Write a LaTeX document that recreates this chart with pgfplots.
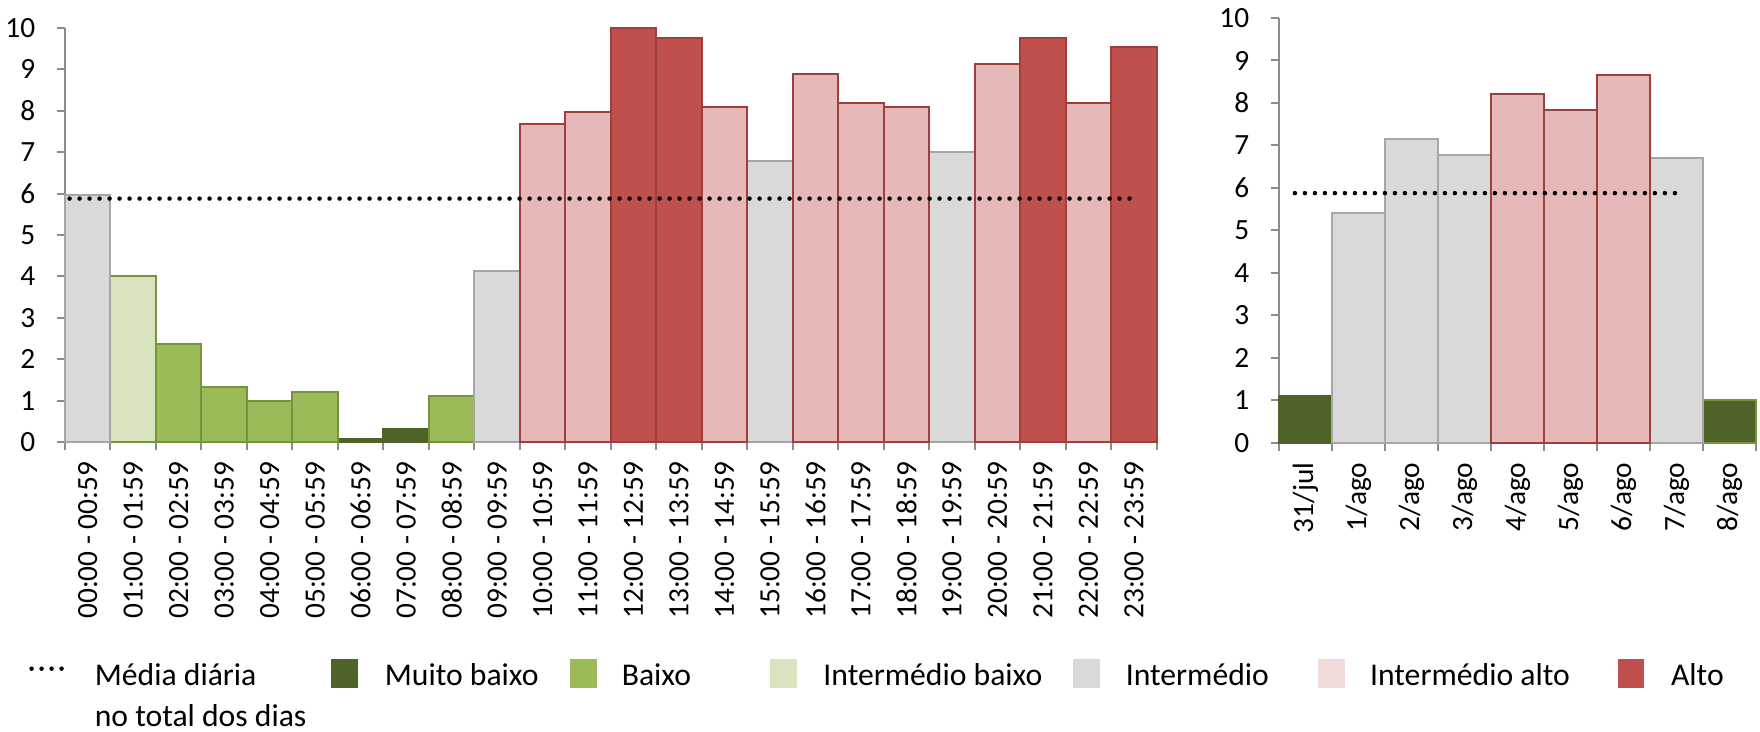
\documentclass[border=0pt]{standalone}
\usepackage{pgfplots}
\pgfplotsset{compat=1.18}
\usepackage{fontspec}
\setmainfont{Carlito}
\definecolor{mbaixo}{HTML}{4F6228}
\definecolor{baixo}{HTML}{9BBB59}
\definecolor{baixoB}{HTML}{77933C}
\definecolor{ibaixo}{HTML}{D7E4BD}
\definecolor{inter}{HTML}{D9D9D9}
\definecolor{interB}{HTML}{A6A6A6}
\definecolor{ialto}{HTML}{E6B9B8}
\definecolor{ialtoLeg}{HTML}{F2DCDB}
\definecolor{alto}{HTML}{C0504D}
\definecolor{altoB}{HTML}{A03E3C}
\definecolor{axisgray}{HTML}{8C8C8C}

\tikzset{avg/.style={black, line width=1.35pt, line cap=round, dash pattern=on 0pt off 3pt}}
\pgfplotsset{
 common/.style={
  scale only axis, axis x line*=bottom, axis y line*=left,
  axis line style={draw=axisgray, line width=0.6pt},
  ymin=0, ymax=10, ytick={0,...,10},
  tick align=outside, major tick length=2.4pt,
  tick style={draw=axisgray, line width=0.6pt},
  x tick label as interval,
  /pgf/number format/assume math mode=true,
  yticklabel style={font=\fontsize{8.8}{10}\selectfont, xshift=-3pt},
  xticklabel style={font=\fontsize{8.8}{10}\selectfont, rotate=90, anchor=east},
  clip=false,
 },
 barplot/.style={ybar, bar width=1, bar shift=0pt, line width=0.6pt},
}

\begin{document}
\begin{tikzpicture}
\begin{axis}[common,
  width=327.5pt, height=124.2pt,
  xmin=-0.5, xmax=23.5,
  xtick={-0.5,0.5,...,23.5},
  xticklabels={00:00 - 00:59,01:00 - 01:59,02:00 - 02:59,03:00 - 03:59,04:00 - 04:59,05:00 - 05:59,06:00 - 06:59,07:00 - 07:59,08:00 - 08:59,09:00 - 09:59,10:00 - 10:59,11:00 - 11:59,12:00 - 12:59,13:00 - 13:59,14:00 - 14:59,15:00 - 15:59,16:00 - 16:59,17:00 - 17:59,18:00 - 18:59,19:00 - 19:59,20:00 - 20:59,21:00 - 21:59,22:00 - 22:59,23:00 - 23:59,},
  legend columns=7,
  legend style={at={(0,0)}, anchor=north west, xshift=-10.7pt, yshift=-64.4pt,
    draw=none, fill=none, inner sep=0pt, outer sep=0pt,
    column sep=0pt, row sep=0pt,
    font=\fontsize{9.5}{12.3}\selectfont,
    nodes={inner sep=0pt, outer sep=0pt},
    cells={anchor=base west}},
]
\addlegendimage{avg, legend image code/.code={\draw[avg] (0.6pt,5pt) -- (12.3pt,5pt);}}
\addlegendentry{\makebox[77.4pt][l]{\hspace*{6.6pt}\begin{tabular}[t]{@{}l@{}}Média diária\\no total dos dias\end{tabular}}}

\addplot[barplot, fill=mbaixo, draw=mbaixo,
  legend image code/.code={\fill[mbaixo] (0pt,-0.5pt) rectangle (7.5pt,7.6pt);}]
  coordinates {(6,0.07) (7,0.32)};
\addlegendentry{\makebox[63.6pt][l]{\hspace*{8.1pt}Muito baixo}}

\addplot[barplot, fill=baixo, draw=baixoB,
  legend image code/.code={\fill[baixo] (0pt,-0.5pt) rectangle (7.5pt,7.6pt);}]
  coordinates {(2,2.36) (3,1.33) (4,0.99) (5,1.21) (8,1.10)};
\addlegendentry{\makebox[52.1pt][l]{\hspace*{7.5pt}Baixo}}

\addplot[barplot, fill=ibaixo, draw=baixoB,
  legend image code/.code={\fill[ibaixo] (0pt,-0.5pt) rectangle (7.5pt,7.6pt);}]
  coordinates {(1,4.02)};
\addlegendentry{\makebox[82.6pt][l]{\hspace*{7.8pt}Intermédio baixo}}

\addplot[barplot, fill=inter, draw=interB,
  legend image code/.code={\fill[inter] (0pt,-0.5pt) rectangle (7.5pt,7.6pt);}]
  coordinates {(0,5.96) (9,4.14) (15,6.78) (19,7.00)};
\addlegendentry{\makebox[65.5pt][l]{\hspace*{7.8pt}Intermédio}}

\addplot[barplot, fill=ialto, draw=altoB,
  legend image code/.code={\fill[ialtoLeg] (0pt,-0.5pt) rectangle (7.5pt,7.6pt);}]
  coordinates {(10,7.69) (11,7.98) (14,8.09) (16,8.89) (17,8.20) (18,8.09) (20,9.12) (22,8.20)};
\addlegendentry{\makebox[81.9pt][l]{\hspace*{7.5pt}Intermédio alto}}

\addplot[barplot, fill=alto, draw=altoB,
  legend image code/.code={\fill[alto] (0pt,-0.5pt) rectangle (7.2pt,7.6pt);}]
  coordinates {(12,10.0) (13,9.77) (21,9.77) (23,9.53)};
\addlegendentry{\makebox[22pt][l]{\hspace*{8.1pt}Alto}}

\addplot[avg, forget plot] coordinates {(-0.4,5.88) (22.92,5.88)};
\end{axis}

\begin{axis}[common,
  at={(364.2pt,-0.3pt)}, anchor=south west,
  width=143.1pt, height=127.5pt,
  xmin=-0.5, xmax=8.5,
  xtick={-0.5,0.5,...,8.5},
  xticklabels={31/jul,1/ago,2/ago,3/ago,4/ago,5/ago,6/ago,7/ago,8/ago,},
]
\addplot[barplot, fill=mbaixo, draw=mbaixo] coordinates {(0,1.11)};
\addplot[barplot, fill=mbaixo, draw=baixoB] coordinates {(8,1.00)};
\addplot[barplot, fill=inter, draw=interB] coordinates {(1,5.42) (2,7.15) (3,6.77) (7,6.70)};
\addplot[barplot, fill=ialto, draw=altoB] coordinates {(4,8.21) (5,7.83) (6,8.66)};
\addplot[avg] coordinates {(-0.2,5.88) (7.0,5.88)};
\end{axis}

\pgfresetboundingbox
\path (-19.5pt,-87pt) rectangle (508.5pt,132.6pt);
\end{tikzpicture}
\end{document}
